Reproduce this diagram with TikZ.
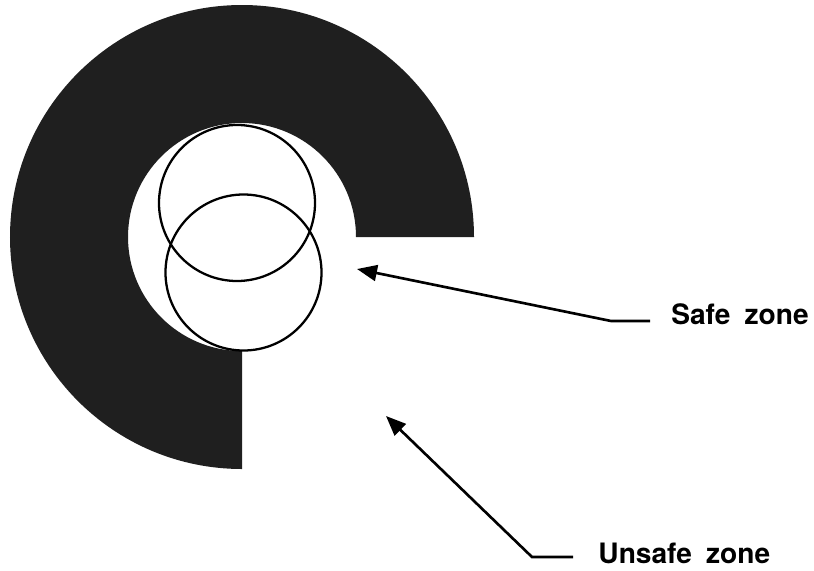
\documentclass[tikz,border=0pt]{standalone}
\usepackage{fontspec}
\setmainfont{TeX Gyre Heros}
\usepackage{tikz}
\usetikzlibrary{arrows.meta}

\begin{document}
\begin{tikzpicture}[
      ring/.style={fill=black!88},
      zone/.style={draw, line width=1.3pt},
      lbl/.style={inner sep=0pt, anchor=base west, font=\fontsize{16}{19}\selectfont\bfseries},
      arr/.style={line width=1.5pt, -{Triangle[length=4mm, width=3.2mm]}}
    ]
    \useasboundingbox (0,0) rectangle (16.28,-11.4);

    % shaded ring, open at the lower right
    \coordinate (c) at (4.84,-4.74);
    \fill[ring] (c) ++(0:4.64) arc[start angle=0, end angle=270, radius=4.64]
      -- ++(0,2.36) arc[start angle=270, end angle=0, radius=2.28] -- cycle;

    % the two circles
    \draw[zone] (4.74,-4.06) circle[radius=1.56];
    \draw[zone] (4.87,-5.45) circle[radius=1.56];

    % labels
    \node[lbl] (safe) at (13.42,-6.48) {Safe\enspace zone};
    \node[lbl] (unsafe) at (11.96,-11.26) {Unsafe\enspace zone};

    \coordinate (safetip) at (7.14,-5.38);
    \coordinate (safebend) at (12.22,-6.42);
    \coordinate (safetail) at (13.0,-6.42);
    \coordinate (unsafetip) at (7.72,-8.32);
    \coordinate (unsafebend) at (10.64,-11.14);
    \coordinate (unsafetail) at (11.46,-11.14);

    \draw[arr] (safetail) -- (safebend) -- (safetip);
    \draw[arr] (unsafetail) -- (unsafebend) -- (unsafetip);
  \end{tikzpicture}
\end{document}
